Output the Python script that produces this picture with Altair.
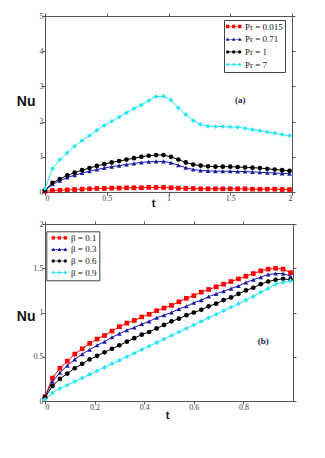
import altair as alt
import pandas as pd

# ---------------- panel (a) ----------------
t_a = [0.00, 0.06, 0.12, 0.18, 0.24, 0.30, 0.36, 0.42, 0.48, 0.54, 0.60, 0.66,
       0.72, 0.78, 0.84, 0.90, 0.96, 1.02, 1.08, 1.14, 1.20, 1.26, 1.32, 1.38,
       1.44, 1.50, 1.56, 1.62, 1.68, 1.74, 1.80, 1.86, 1.92, 1.98]
labels_a = ["Pr = 0.015", "Pr = 0.71", "Pr = 1", "Pr = 7"]
nu_a_0015 = [0.02, 0.04, 0.05, 0.06, 0.07, 0.08, 0.09, 0.10, 0.10, 0.11, 0.11, 0.12,
             0.12, 0.12, 0.13, 0.13, 0.13, 0.12, 0.11, 0.10, 0.10, 0.09, 0.09, 0.09,
             0.09, 0.09, 0.09, 0.09, 0.08, 0.08, 0.08, 0.08, 0.07, 0.07]
nu_a_071 = [0.04, 0.22, 0.32, 0.41, 0.48, 0.54, 0.59, 0.64, 0.68, 0.72, 0.75, 0.78,
            0.81, 0.84, 0.86, 0.87, 0.87, 0.83, 0.76, 0.69, 0.64, 0.61, 0.60, 0.59,
            0.59, 0.59, 0.58, 0.58, 0.57, 0.56, 0.55, 0.54, 0.53, 0.52]
nu_a_1 = [0.05, 0.26, 0.37, 0.47, 0.55, 0.62, 0.68, 0.74, 0.79, 0.84, 0.88, 0.92,
          0.96, 1.00, 1.03, 1.05, 1.05, 1.00, 0.92, 0.84, 0.78, 0.75, 0.73, 0.72,
          0.72, 0.72, 0.71, 0.70, 0.69, 0.68, 0.66, 0.64, 0.62, 0.60]
nu_a_7 = [0.10, 0.66, 0.92, 1.11, 1.30, 1.46, 1.60, 1.75, 1.89, 2.01, 2.13, 2.25,
          2.37, 2.47, 2.60, 2.71, 2.72, 2.61, 2.39, 2.20, 2.03, 1.92, 1.87, 1.86,
          1.86, 1.85, 1.84, 1.81, 1.77, 1.74, 1.70, 1.67, 1.63, 1.60]

# ---------------- panel (b) ----------------
t_b = [0.00, 0.03, 0.06, 0.09, 0.12, 0.15, 0.18, 0.21, 0.24, 0.27, 0.30, 0.33,
       0.36, 0.39, 0.42, 0.45, 0.48, 0.51, 0.54, 0.57, 0.60, 0.63, 0.66, 0.69,
       0.72, 0.75, 0.78, 0.81, 0.84, 0.87, 0.90, 0.93, 0.96, 0.99]
labels_b = ["β = 0.1", "β = 0.3", "β = 0.6", "β = 0.9"]
nu_b_01 = [0.05, 0.26, 0.37, 0.45, 0.53, 0.59, 0.65, 0.70, 0.74, 0.79, 0.84, 0.88,
           0.91, 0.95, 0.98, 1.02, 1.05, 1.08, 1.12, 1.16, 1.19, 1.23, 1.26, 1.29,
           1.32, 1.35, 1.38, 1.41, 1.44, 1.47, 1.49, 1.50, 1.49, 1.45]
nu_b_03 = [0.05, 0.22, 0.32, 0.40, 0.47, 0.53, 0.58, 0.63, 0.67, 0.72, 0.76, 0.80,
           0.83, 0.87, 0.90, 0.94, 0.97, 1.00, 1.04, 1.07, 1.11, 1.14, 1.18, 1.21,
           1.24, 1.27, 1.30, 1.34, 1.37, 1.40, 1.43, 1.44, 1.44, 1.41]
nu_b_06 = [0.04, 0.17, 0.25, 0.31, 0.37, 0.42, 0.47, 0.51, 0.55, 0.59, 0.63, 0.67,
           0.71, 0.75, 0.78, 0.82, 0.86, 0.90, 0.93, 0.97, 1.00, 1.03, 1.07, 1.10,
           1.14, 1.17, 1.21, 1.25, 1.28, 1.32, 1.35, 1.37, 1.38, 1.37]
nu_b_09 = [0.02, 0.09, 0.14, 0.18, 0.22, 0.26, 0.30, 0.34, 0.38, 0.42, 0.46, 0.50,
           0.54, 0.58, 0.62, 0.66, 0.70, 0.74, 0.78, 0.82, 0.86, 0.90, 0.94, 0.98,
           1.02, 1.06, 1.10, 1.14, 1.18, 1.23, 1.27, 1.32, 1.34, 1.36]

colors = ["#ff0000", "#1a1aa6", "#000000", "#22e6f2"]
plot_shapes = ["square", "triangle-up", "circle", "diamond"]


def triple(kind):
    parts = ["M-2.6,-0.1H2.6V0.1H-2.6Z"]
    for cx in (-2.0, 0.0, 2.0):
        if kind == "square":
            parts.append(f"M{cx-0.55},-0.55H{cx+0.55}V0.55H{cx-0.55}Z")
        elif kind == "triangle":
            parts.append(f"M{cx-0.6},0.5L{cx},-0.6L{cx+0.6},0.5Z")
        elif kind == "circle":
            parts.append(f"M{cx-0.55},0A0.55,0.55 0 1,1 {cx+0.55},0A0.55,0.55 0 1,1 {cx-0.55},0Z")
        else:
            parts.append(f"M{cx},-0.6L{cx+0.6},0L{cx},0.6L{cx-0.6},0Z")
    return " ".join(parts)


legend_paths = [triple("square"), triple("triangle"), triple("circle"), triple("diamond")]


def long_df(t, series, labels):
    rows = []
    for lab, vals in zip(labels, series):
        for tt, v in zip(t, vals):
            rows.append({"t": tt, "Nu": v, "s": lab})
    return pd.DataFrame(rows)


def panel(df, labels, w, h, xdom, xticks, ydom, yticks, leg, note, nu_y, t_x):
    xs = alt.Scale(domain=xdom, nice=False, zero=False)
    ys = alt.Scale(domain=ydom, nice=False, zero=False)
    cscale = alt.Scale(domain=labels, range=colors)
    main_x = alt.X("t:Q", scale=xs, axis=alt.Axis(
        values=xticks, format="~g", title="t", titleX=t_x[0], titleY=t_x[1],
        titleBaseline="middle", titleFont="Liberation Sans", titleFontSize=11,
        titleFontWeight="bold", titleColor="#111"))
    main_y = alt.Y("Nu:Q", scale=ys, axis=alt.Axis(
        values=yticks, format="~g", title="Nu", titleAngle=0, titleX=-10,
        titleY=nu_y, titleAlign="right", titleBaseline="middle",
        titleFont="Liberation Sans", titleFontSize=14, titleFontWeight="bold",
        titleColor="#111"))
    nox = alt.X("t:Q", scale=xs, axis=None)
    noy = alt.Y("Nu:Q", scale=ys, axis=None)

    base = alt.Chart(df)
    line = base.mark_line(strokeWidth=1).encode(
        x=main_x, y=main_y,
        color=alt.Color("s:N", scale=cscale, legend=None))
    pts = base.mark_point(filled=True, size=22, opacity=1).encode(
        x=nox, y=noy,
        color=alt.Color("s:N", scale=cscale, legend=None),
        shape=alt.Shape("s:N", scale=alt.Scale(domain=labels, range=plot_shapes), legend=None))
    legend_kw = dict(
        title=None, orient="none", legendX=leg["x"], legendY=leg["y"],
        direction="vertical", fillColor="white", strokeColor="#444",
        padding=leg["pad"], symbolOffset=leg["so"], labelOffset=leg["lo"],
        rowPadding=leg["rp"], symbolSize=36, symbolStrokeWidth=0,
        symbolOpacity=1, labelFont="Liberation Serif", labelFontSize=9,
        labelColor="#111", labelExpr="datum.label + '\u2002\u2009'")
    legl = base.mark_point(filled=True, size=36, opacity=0).encode(
        x=alt.X("t:Q", scale=xs, axis=alt.Axis(orient="top", values=xticks, labels=False, title=None)),
        y=alt.Y("Nu:Q", scale=ys, axis=alt.Axis(orient="right", values=yticks, labels=False, title=None)),
        color=alt.Color("s:N", scale=cscale, legend=alt.Legend(**legend_kw)),
        shape=alt.Shape("s:N", scale=alt.Scale(domain=labels, range=legend_paths),
                        legend=alt.Legend(**legend_kw)))
    ndf = pd.DataFrame({"t": [note[0]], "Nu": [note[1]], "txt": [note[2]]})
    txt = alt.Chart(ndf).mark_text(font="Liberation Serif", fontSize=9,
                                   fontWeight="bold", color="#1c1c3c").encode(
        x=nox, y=noy, text="txt:N")
    return alt.layer(line, pts, legl, txt).resolve_scale(
        color="independent", shape="independent").resolve_axis(
        x="independent", y="independent").properties(width=w, height=h)


df_a = long_df(t_a, [nu_a_0015, nu_a_071, nu_a_1, nu_a_7], labels_a)
df_b = long_df(t_b, [nu_b_01, nu_b_03, nu_b_06, nu_b_09], labels_b)

top = panel(df_a, labels_a, 247, 176, [0, 2], [0, 0.5, 1, 1.5, 2], [0, 5],
            [0, 1, 2, 3, 4, 5],
            dict(x=179, y=4, pad=2, so=3.2, lo=6.8, rp=2.7),
            (1.58, 2.62, "(a)"), 85, (108, 11))
bottom = panel(df_b, labels_b, 248, 177, [0, 1], [0, 0.2, 0.4, 0.6, 0.8], [0, 2],
               [0, 0.5, 1, 1.5, 2],
               dict(x=1.3, y=7.3, pad=2, so=6.5, lo=7.2, rp=1.6),
               (0.88, 0.68, "(b)"), 92, (122, 14))

chart = alt.vconcat(top, bottom, spacing=10).properties(
    padding={"left": 7, "top": 3, "right": 5, "bottom": 5}
).configure_view(stroke="#555", strokeWidth=1).configure_axis(
    labelFont="Liberation Serif", labelFontSize=8, labelColor="#444",
    tickSize=3, tickColor="#555", domainColor="#555", grid=False,
    labelPadding=-1
)

chart.save("out.html", embed_options={"renderer": "svg", "actions": False})
